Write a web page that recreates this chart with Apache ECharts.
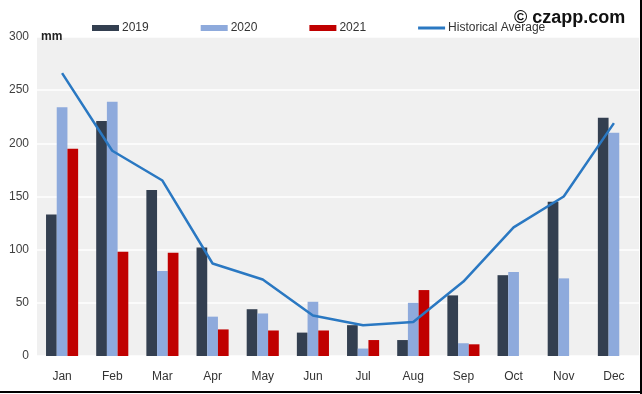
<!DOCTYPE html>
<html>
<head>
<meta charset="utf-8">
<script src="https://cdn.jsdelivr.net/npm/echarts@6/dist/echarts.min.js"></script>
<style>html,body{margin:0;padding:0;background:#fff}#c{width:642px;height:394px}</style>
</head>
<body>
<div id="c"></div>
<script>
var months = ['Jan','Feb','Mar','Apr','May','Jun','Jul','Aug','Sep','Oct','Nov','Dec'];
var y2019 = [133, 221, 156, 102, 44, 22, 29, 15, 57, 76, 145, 224];
var y2020 = [234, 239, 80, 37, 40, 51, 7, 50, 12, 79, 73, 210];
var y2021 = [195, 98, 97, 25, 24, 24, 15, 62, 11, null, null, null];
var histAvg = [266, 193, 165, 87, 72, 38, 29, 32, 70, 121, 150, 219];

var font = "'Liberation Sans',Arial,sans-serif";
var chart = echarts.init(document.getElementById('c'), null, {renderer:'canvas'});
chart.setOption({
  animation: false,
  textStyle: {fontFamily: font},
  legend: {
    top: 17, left: 87, itemGap: 52, itemWidth: 27, itemHeight: 6,
    textStyle: {fontSize: 12, color: '#333', fontFamily: font, padding: [0,0,0,-2]},
    data: [
      {name: '2019', icon: 'rect'},
      {name: '2020', icon: 'rect'},
      {name: '2021', icon: 'rect'},
      {name: 'Historical Average', icon: 'path://M0,0 H27 V3 H0 Z', itemStyle: {color: '#2a78c2'}}
    ]
  },
  grid: {left: 37, right: 3, top: 37, bottom: 38, show: true, backgroundColor: '#f0f0f0', borderWidth: 0},
  xAxis: {
    type: 'category', data: months,
    axisLine: {show: false}, axisTick: {show: false},
    axisLabel: {fontSize: 12, color: '#333', margin: 15, fontFamily: font}
  },
  yAxis: {
    type: 'value', min: 0, max: 300, interval: 50,
    name: 'mm', nameLocation: 'end', nameGap: 0,
    nameTextStyle: {fontSize: 12, fontWeight: 'bold', color: '#222', align: 'left', padding: [0,0,0,4], verticalAlign: 'middle'},
    axisLine: {show: false}, axisTick: {show: false},
    axisLabel: {fontSize: 12, color: '#404040', margin: 8, fontFamily: font},
    splitLine: {lineStyle: {color: '#ffffff', width: 1.5}}
  },
  series: [
    {name: '2019', type: 'bar', data: y2019, barGap: '0%', barCategoryGap: '36%', itemStyle: {color: '#333f50'}},
    {name: '2020', type: 'bar', data: y2020, itemStyle: {color: '#8eaadc'}},
    {name: '2021', type: 'bar', data: y2021, itemStyle: {color: '#c00000'}},
    {name: 'Historical Average', type: 'line', data: histAvg, symbol: 'none', smooth: false,
     lineStyle: {color: '#2a78c2', width: 2.5}, itemStyle: {color: '#2a78c2'}, z: 5}
  ],
  graphic: [
    {type: 'text', left: 514, top: 9, z: 10, style: {text: '© czapp.com', fontSize: 18, fontWeight: 'bold', fill: '#111', fontFamily: "'Liberation Sans',Arial,sans-serif"}},
    {type: 'line', shape: {x1: 0, y1: 392, x2: 642, y2: 392}, style: {stroke: '#000', lineWidth: 2}},
    {type: 'line', shape: {x1: 641, y1: 0, x2: 641, y2: 394}, style: {stroke: '#000', lineWidth: 2}}
  ]
});
</script>
</body>
</html>
